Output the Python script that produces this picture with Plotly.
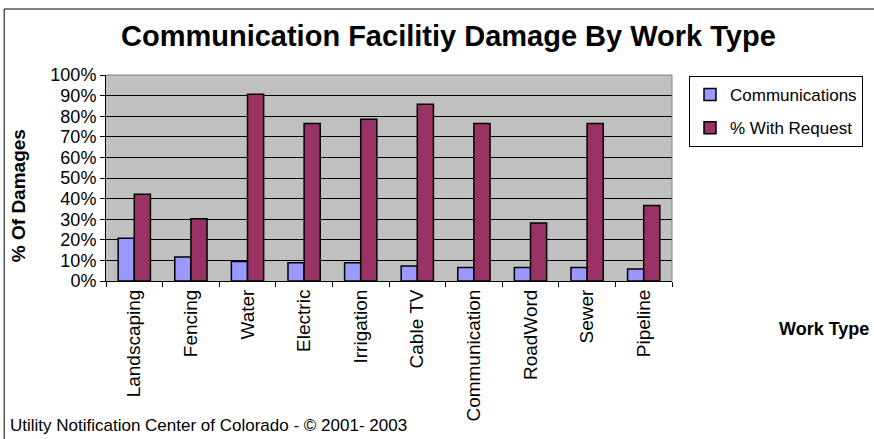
import plotly.graph_objects as go

# Work types and their damage percentages
work_types = ["Landscaping", "Fencing", "Water", "Electric", "Irrigation",
              "Cable TV", "Communication", "RoadWord", "Sewer", "Pipeline"]
communications = [20.8, 11.6, 9.5, 8.9, 8.9, 7.3, 6.5, 6.5, 6.5, 5.8]
with_request = [42.1, 30.2, 90.6, 76.4, 78.5, 85.8, 76.4, 28.2, 76.4, 36.6]
y_ticks = list(range(0, 101, 10))
y_tick_labels = [f"{v}%" for v in y_ticks]

W, H = 874, 439
L, R, T, B = 106, 201, 75, 158
pw, ph = W - L - R, H - T - B
FONT = "Arial, Liberation Sans, sans-serif"


def px_x(x):
    return (x - L) / pw


def px_y(y):
    return (H - B - y) / ph


fig = go.Figure()
fig.add_trace(go.Bar(
    x=work_types, y=communications, name="Communications", legendgroup="a",
    marker=dict(color="#9999FF", line=dict(color="#000000", width=1.5)),
))
fig.add_trace(go.Bar(
    x=work_types, y=with_request, name="% With Request", legendgroup="b",
    marker=dict(color="#993366", line=dict(color="#000000", width=1.5)),
))

fig.update_layout(
    width=W, height=H,
    margin=dict(l=L, r=R, t=T, b=B),
    paper_bgcolor="white",
    plot_bgcolor="#C0C0C0",
    barmode="group",
    bargap=0.43,
    bargroupgap=0,
    font=dict(family=FONT, size=18, color="black"),
    title=dict(
        text="<b>Communication Facilitiy Damage By Work Type</b>",
        x=px_x(449), xanchor="center", xref="paper",
        y=1 - 36 / H, yanchor="middle",
        font=dict(size=29),
    ),
    legend=dict(
        x=px_x(689), xanchor="left",
        y=px_y(76), yanchor="top",
        bordercolor="black", borderwidth=1,
        bgcolor="white",
        font=dict(size=17),
        tracegroupgap=8,
        itemwidth=30,
    ),
    showlegend=True,
)

fig.update_xaxes(
    type="category",
    tickangle=-90,
    showline=True, linecolor="black", linewidth=1,
    ticks="outside", tickson="boundaries", ticklen=5, tickcolor="black",
    showgrid=False,
    tickfont=dict(size=19),
)
fig.update_yaxes(
    range=[0, 100],
    tickvals=y_ticks, ticktext=y_tick_labels,
    showline=True, linecolor="black", linewidth=1,
    ticks="outside", ticklen=5, tickcolor="black",
    showgrid=True, gridcolor="black", gridwidth=1,
    zeroline=False,
    tickfont=dict(size=18),
)

# gray top/right plot border, outer chart border
fig.add_shape(type="line", xref="paper", yref="paper", x0=0, x1=1, y0=1, y1=1,
              line=dict(color="#808080", width=1))
fig.add_shape(type="line", xref="paper", yref="paper", x0=1, x1=1, y0=0, y1=1,
              line=dict(color="#808080", width=1))
fig.add_shape(type="line", xref="paper", yref="paper",
              x0=px_x(4), x1=px_x(880), y0=px_y(9), y1=px_y(9),
              line=dict(color="black", width=1))
fig.add_shape(type="line", xref="paper", yref="paper",
              x0=px_x(4), x1=px_x(4), y0=px_y(9), y1=px_y(445),
              line=dict(color="black", width=1))

fig.add_annotation(
    text="<b>% Of Damages</b>", xref="paper", yref="paper",
    x=px_x(18), y=px_y(196), xanchor="center", yanchor="middle",
    textangle=-90, showarrow=False, font=dict(size=19),
)
fig.add_annotation(
    text="<b>Work Type</b>", xref="paper", yref="paper",
    x=px_x(872), y=px_y(329), xanchor="right", yanchor="middle",
    showarrow=False, font=dict(size=18),
)
fig.add_annotation(
    text="Utility Notification Center of Colorado - © 2001- 2003",
    xref="paper", yref="paper",
    x=px_x(8), y=px_y(425), xanchor="left", yanchor="middle",
    showarrow=False, font=dict(size=17),
)

fig.write_html("out.html", config={"displayModeBar": False},
               post_script="document.body.style.margin='0';")
